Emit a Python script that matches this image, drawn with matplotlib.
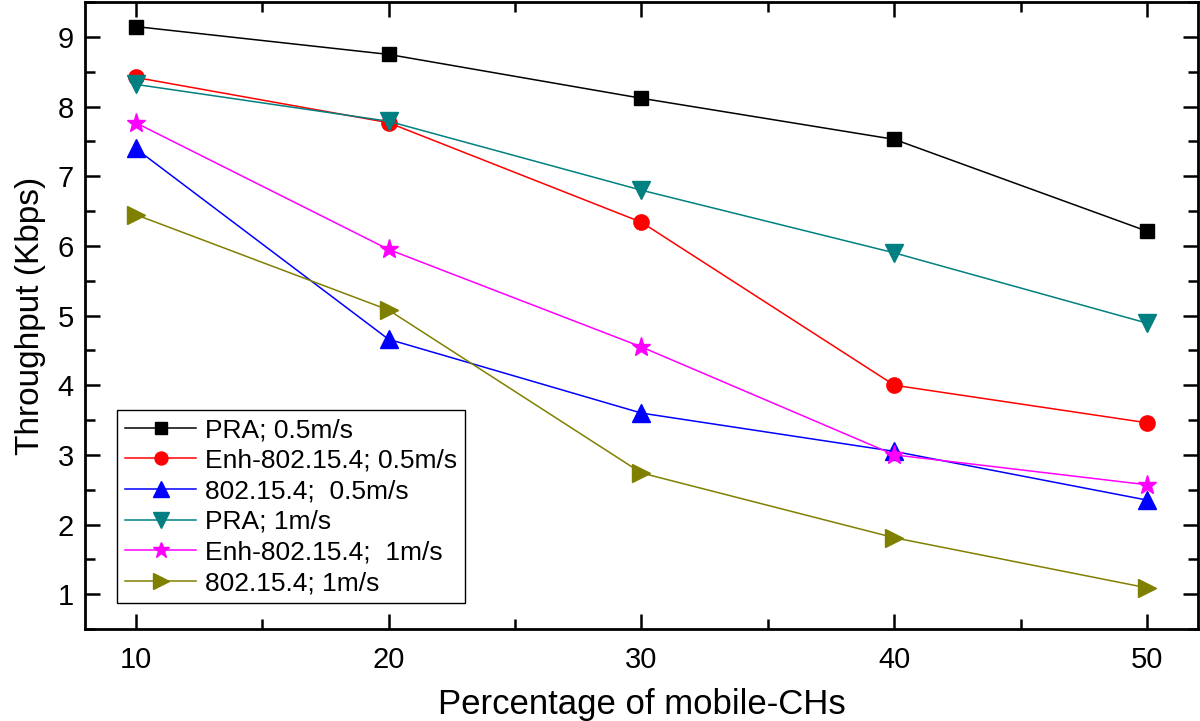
import matplotlib.pyplot as plt
from matplotlib.ticker import MultipleLocator

plt.rcParams['font.family'] = ['Liberation Sans', 'DejaVu Sans']

# Data
pct = [10, 20, 30, 40, 50]
pra_05 = [9.15, 8.75, 8.12, 7.53, 6.21]
enh_05 = [8.42, 7.77, 6.34, 4.00, 3.46]
ieee_05 = [7.40, 4.66, 3.60, 3.05, 2.35]
pra_1 = [8.32, 7.79, 6.80, 5.90, 4.89]
enh_1 = [7.77, 5.95, 4.55, 3.00, 2.57]
ieee_1 = [6.45, 5.08, 2.74, 1.81, 1.09]

labels = ['PRA; 0.5m/s', 'Enh-802.15.4; 0.5m/s', '802.15.4;  0.5m/s',
          'PRA; 1m/s', 'Enh-802.15.4;  1m/s', '802.15.4; 1m/s']
colors = ['black', 'red', 'blue', '#008080', '#FF00FF', '#808000']
markers = ['s', 'o', '^', 'v', '*', '>']
sizes = [10, 11, 13, 13, 14, 13]

fig = plt.figure(figsize=(12, 7.21), dpi=100)
ax = fig.add_axes([0.0708, 0.1276, 0.9275, 0.8694])

series = [pra_05, enh_05, ieee_05, pra_1, enh_1, ieee_1]
for ys, lab, c, m, s in zip(series, labels, colors, markers, sizes):
    ax.plot(pct, ys, color=c, marker=m, markersize=s, linewidth=1.1,
            label=lab, markeredgecolor=c)

ax.set_xlim(8, 52)
ax.set_ylim(0.5, 9.5)
ax.xaxis.set_major_locator(MultipleLocator(10))
ax.xaxis.set_minor_locator(MultipleLocator(5))
ax.yaxis.set_major_locator(MultipleLocator(1))
ax.yaxis.set_minor_locator(MultipleLocator(0.5))
ax.tick_params(which='both', direction='in', top=True, right=True,
               width=1.8, labelsize=21)
ax.tick_params(which='major', length=11, pad=12)
ax.tick_params(which='minor', length=7)
ax.tick_params(axis='y', pad=8)
for sp in ax.spines.values():
    sp.set_linewidth(2)

ax.set_xlabel('Percentage of mobile-CHs', fontsize=25, labelpad=10)
ax.set_ylabel('Throughput (Kbps)', fontsize=24, labelpad=8)

leg = ax.legend(loc='lower left', bbox_to_anchor=(0.0288, 0.0415),
                borderaxespad=0, fontsize=19, handlelength=2.7,
                labelspacing=0.25, fancybox=False, edgecolor='black',
                framealpha=1, markerscale=0.85, borderpad=0.3,
                handletextpad=0.35)
leg.get_frame().set_linewidth(1.0)

fig.savefig('out.png', dpi=100)
